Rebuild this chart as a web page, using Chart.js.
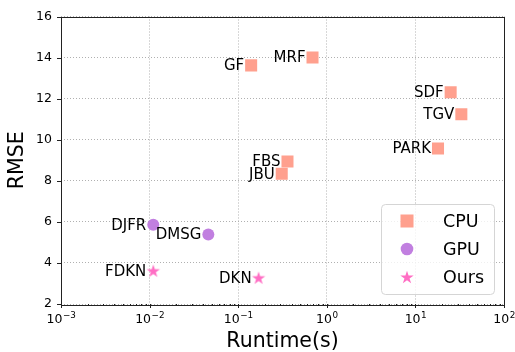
<!DOCTYPE html>
<html>
<head>
<meta charset="utf-8">
<script src="https://cdn.jsdelivr.net/npm/chart.js@4"></script>
<style>
html,body{margin:0;padding:0;background:#fff;}
canvas{display:block;}
</style>
</head>
<body>
<canvas id="c" width="515" height="352"></canvas>
<script>
// ---- data ----
const cpuNames = ['GF', 'MRF', 'SDF', 'TGV', 'PARK', 'FBS', 'JBU'];
const cpuRuntime = [0.14, 0.69, 25, 33, 18, 0.36, 0.31];
const cpuRmse = [13.62, 14.0, 12.31, 11.24, 9.57, 8.94, 8.34];

const gpuNames = ['DJFR', 'DMSG'];
const gpuRuntime = [0.011, 0.046];
const gpuRmse = [5.86, 5.39];

const oursNames = ['FDKN', 'DKN'];
const oursRuntime = [0.011, 0.17];
const oursRmse = [3.62, 3.28];

const xTicks = [1e-3, 1e-2, 1e-1, 1e0, 1e1, 1e2];
const yTicks = [2, 4, 6, 8, 10, 12, 14, 16];
const legendLabels = ['CPU', 'GPU', 'Ours'];

const FONT = "'DejaVu Sans', sans-serif";
const COL_CPU = '#FFA08E';
const COL_GPU = '#C17FE0';
const COL_OURS = '#FF6EC4';

function starCanvas(color, R) {
  const s = Math.ceil(R * 2 + 2);
  const cv = document.createElement('canvas');
  cv.width = s; cv.height = s;
  const g = cv.getContext('2d');
  const r = R * 0.381;
  g.beginPath();
  for (let i = 0; i < 10; i++) {
    const rad = i % 2 === 0 ? R : r;
    const a = -Math.PI / 2 + i * Math.PI / 5;
    const px = s / 2 + rad * Math.cos(a), py = s / 2 + rad * Math.sin(a) + R * 0.1;
    if (i === 0) g.moveTo(px, py); else g.lineTo(px, py);
  }
  g.closePath();
  g.fillStyle = color;
  g.fill();
  return cv;
}
const starImg = starCanvas(COL_OURS, 7);

function pts(xs, ys) { return xs.map((x, i) => ({x: x, y: ys[i]})); }

const labelPlugin = {
  id: 'pointLabels',
  afterDatasetsDraw(chart) {
    const ctx = chart.ctx;
    ctx.save();
    ctx.font = "15px " + FONT;
    ctx.fillStyle = '#000';
    ctx.textAlign = 'right';
    ctx.textBaseline = 'middle';
    chart.data.datasets.forEach((ds, di) => {
      const meta = chart.getDatasetMeta(di);
      meta.data.forEach((el, i) => {
        ctx.fillText(ds.names[i], el.x - 7, el.y + 1);
      });
    });
    ctx.restore();
  }
};

const framePlugin = {
  id: 'frame',
  afterDraw(chart) {
    const ctx = chart.ctx;
    const a = chart.chartArea;
    const xs = chart.scales.x, ys = chart.scales.y;
    ctx.save();
    ctx.strokeStyle = '#222';
    ctx.lineWidth = 1;
    // ticks
    ctx.beginPath();
    for (let e = -3; e < 2; e++) {
      for (let m = 2; m <= 9; m++) {
        const px = Math.round(xs.getPixelForValue(m * Math.pow(10, e))) + 0.5;
        ctx.moveTo(px, a.bottom); ctx.lineTo(px, a.bottom + 2);
      }
    }
    xTicks.forEach(v => {
      const px = Math.round(xs.getPixelForValue(v)) + 0.5;
      ctx.moveTo(px, a.bottom); ctx.lineTo(px, a.bottom + 4);
    });
    yTicks.forEach(v => {
      const py = Math.round(ys.getPixelForValue(v)) + 0.5;
      ctx.moveTo(a.left, py); ctx.lineTo(a.left - 4, py);
    });
    ctx.stroke();
    ctx.strokeRect(Math.round(a.left) + 0.5, Math.round(a.top) + 0.5, Math.round(a.right - a.left), Math.round(a.bottom - a.top));
    // x tick labels: 10 with raised exponent
    ctx.fillStyle = '#000';
    ctx.textBaseline = 'alphabetic';
    ctx.textAlign = 'left';
    xTicks.forEach(v => {
      const e = Math.round(Math.log10(v));
      const base = '10', ex = (e < 0 ? '\u2212' : '') + Math.abs(e);
      ctx.font = "12.5px " + FONT;
      const wb = ctx.measureText(base).width;
      ctx.font = "8.8px " + FONT;
      const we = ctx.measureText(ex).width;
      const px = xs.getPixelForValue(v);
      const x0 = px - (wb + we) / 2;
      ctx.font = "12.5px " + FONT;
      ctx.fillText(base, x0, a.bottom + 19);
      ctx.font = "8.8px " + FONT;
      ctx.fillText(ex, x0 + wb + 0.5, a.bottom + 14);
    });
    // legend
    const lw = 113, lh = 90;
    const lx = a.right - 10 - lw, ly = a.bottom - 10 - lh;
    ctx.beginPath();
    ctx.roundRect(lx + 0.5, ly + 0.5, lw, lh, 4);
    ctx.fillStyle = 'rgba(255,255,255,0.8)';
    ctx.fill();
    ctx.strokeStyle = '#d5d5d5';
    ctx.stroke();
    const rows = [ly + 17, ly + 45, ly + 73];
    const mx = lx + 26;
    ctx.fillStyle = COL_CPU;
    ctx.fillRect(mx - 6.5, rows[0] - 6.5, 13, 13);
    ctx.fillStyle = COL_GPU;
    ctx.beginPath(); ctx.arc(mx, rows[1], 6.3, 0, Math.PI * 2); ctx.fill();
    ctx.drawImage(starImg, mx - starImg.width / 2, rows[2] - starImg.height / 2);
    ctx.fillStyle = '#000';
    ctx.font = "17.5px " + FONT;
    ctx.textAlign = 'left';
    ctx.textBaseline = 'middle';
    legendLabels.forEach((t, i) => ctx.fillText(t, lx + 62, rows[i] + 1));
    ctx.restore();
  }
};

new Chart(document.getElementById('c'), {
  type: 'scatter',
  data: {
    datasets: [
      {label: 'CPU', names: cpuNames, data: pts(cpuRuntime, cpuRmse), pointStyle: 'rect', pointRadius: 8.5, pointHoverRadius: 8.5, backgroundColor: COL_CPU, borderWidth: 0},
      {label: 'GPU', names: gpuNames, data: pts(gpuRuntime, gpuRmse), pointStyle: 'circle', pointRadius: 6, pointHoverRadius: 6, backgroundColor: COL_GPU, borderWidth: 0},
      {label: 'Ours', names: oursNames, data: pts(oursRuntime, oursRmse), pointStyle: starImg, pointRadius: 7, backgroundColor: COL_OURS, borderWidth: 0}
    ]
  },
  options: {
    responsive: false,
    animation: false,
    devicePixelRatio: 1,
    events: [],
    layout: {padding: {left: 0, right: 11, top: 16, bottom: 0}},
    plugins: {legend: {display: false}, tooltip: {enabled: false}},
    scales: {
      x: {
        type: 'logarithmic',
        min: 1e-3, max: 1e2,
        afterFit(s) { s.height = 48; s.paddingLeft = 0; s.paddingRight = 0; },
        afterBuildTicks(s) { s.ticks = xTicks.map(v => ({value: v, major: true})); },
        grid: {color: '#b0b0b0', drawTicks: false, lineWidth: 1},
        border: {display: false, dash: [1, 2]},
        ticks: {display: false},
        title: {display: true, text: 'Runtime(s)', color: '#000', font: {family: FONT, size: 20.5, lineHeight: 1.0}, padding: {top: 0, bottom: 0}}
      },
      y: {
        min: 2, max: 16,
        afterFit(s) { s.width = 61; },
        afterBuildTicks(s) { s.ticks = yTicks.map(v => ({value: v})); },
        grid: {color: '#b0b0b0', drawTicks: false, lineWidth: 1},
        border: {display: false, dash: [1, 2]},
        ticks: {padding: 9, color: '#000', font: {family: FONT, size: 12.5}},
        title: {display: true, text: 'RMSE', color: '#000', font: {family: FONT, size: 20.5, lineHeight: 1.0}, padding: {top: 7, bottom: 0}}
      }
    }
  },
  plugins: [labelPlugin, framePlugin]
});
</script>
</body>
</html>
